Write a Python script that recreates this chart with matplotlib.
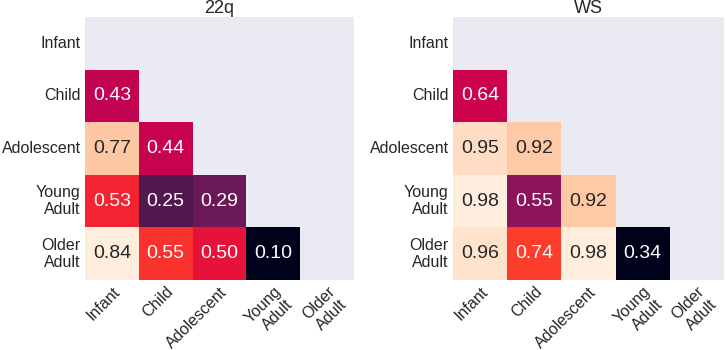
import numpy as np
import matplotlib
matplotlib.use("Agg")
import matplotlib.pyplot as plt
import matplotlib.colors as mcolors
import seaborn as sns

# Age groups and pairwise values (lower triangle only)
groups = ["Infant", "Child", "Adolescent", "Young\nAdult", "Older\nAdult"]

vals_22q = [
    [np.nan, np.nan, np.nan, np.nan, np.nan],
    [0.43, np.nan, np.nan, np.nan, np.nan],
    [0.77, 0.44, np.nan, np.nan, np.nan],
    [0.53, 0.25, 0.29, np.nan, np.nan],
    [0.84, 0.55, 0.50, 0.10, np.nan],
]
vals_ws = [
    [np.nan, np.nan, np.nan, np.nan, np.nan],
    [0.64, np.nan, np.nan, np.nan, np.nan],
    [0.95, 0.92, np.nan, np.nan, np.nan],
    [0.98, 0.55, 0.92, np.nan, np.nan],
    [0.96, 0.74, 0.98, 0.34, np.nan],
]
titles = ["22q", "WS"]

sns.set_style("darkgrid")
plt.rcParams["font.family"] = ["Liberation Sans", "DejaVu Sans"]

# rocket, a bit more vivid like the reference image
base = sns.color_palette("rocket", as_cmap=True)(np.linspace(0, 1, 256))[:, :3]
hsv = mcolors.rgb_to_hsv(base)
hsv[:, 1] = np.clip(hsv[:, 1] * 1.12, 0, 1)
hsv[:, 2] = np.clip(hsv[:, 2] * 1.07, 0, 1)
cmap = mcolors.ListedColormap(mcolors.hsv_to_rgb(hsv))

fig = plt.figure(figsize=(7.26, 3.5), dpi=100)
ax1 = fig.add_axes([85 / 726, 70 / 350, 269 / 726, 263 / 350])
ax2 = fig.add_axes([453 / 726, 70 / 350, 271 / 726, 263 / 350])

mask = np.triu(np.ones((5, 5), dtype=bool))

for ax, vals, title in zip([ax1, ax2], [vals_22q, vals_ws], titles):
    data = np.array(vals)
    sns.heatmap(data, mask=mask, cmap=cmap, annot=True, fmt=".2f",
                annot_kws={"fontsize": 14}, cbar=False, ax=ax,
                xticklabels=groups, yticklabels=groups)
    ax.set_title(title, fontsize=13, pad=3)
    ax.set_facecolor("#EAEAF2")
    ax.grid(False)
    ax.tick_params(length=0, labelsize=11.5, pad=3)
    plt.setp(ax.get_xticklabels(), rotation=45, ha="right",
             rotation_mode="anchor")
    plt.setp(ax.get_yticklabels(), rotation=0, ha="right", va="center",
             multialignment="right")
    for t in ax.texts:
        t.set_color("#262626" if t.get_color() != "w" else "white")

fig.savefig("out.png", dpi=100)
